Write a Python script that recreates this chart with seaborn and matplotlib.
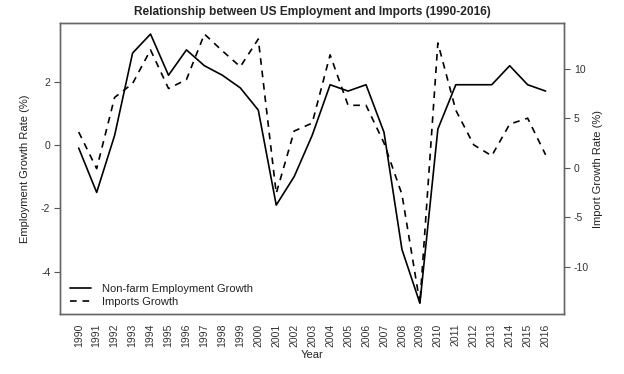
import matplotlib
matplotlib.use("Agg")
import matplotlib.pyplot as plt
import seaborn as sns
import pandas as pd
import numpy as np

years = list(range(1990, 2017))
employment = [-0.1, -1.5, 0.3, 2.9, 3.5, 2.2, 3.0, 2.5, 2.2, 1.8, 1.1, -1.9, -1.0, 0.3,
              1.9, 1.7, 1.9, 0.4, -3.3, -5.0, 0.5, 1.9, 1.9, 1.9, 2.5, 1.9, 1.7]
imports = [3.6, -0.1, 7.1, 8.5, 11.9, 8.0, 8.9, 13.5, 11.8, 10.2, 13.0, -2.6, 3.7, 4.5,
           11.4, 6.3, 6.3, 2.5, -2.7, -13.7, 12.6, 5.8, 2.3, 1.2, 4.4, 5.0, 1.3]

df = pd.DataFrame({"Year": years, "Employment": employment, "Imports": imports})

sns.set_style("white")
plt.rcParams['font.family'] = ['Liberation Sans', 'DejaVu Sans']
plt.rcParams['axes.unicode_minus'] = False

fig = plt.figure(figsize=(6.24, 3.74), dpi=100)
ax = fig.add_axes([0.0962, 0.1604, 0.9043 - 0.0962, 0.9377 - 0.1604])
ax2 = ax.twinx()

sns.lineplot(data=df, x="Year", y="Employment", ax=ax, color="black", lw=1.2,
             label="Non-farm Employment Growth", legend=False)
sns.lineplot(data=df, x="Year", y="Imports", ax=ax2, color="black", lw=1.2,
             linestyle=(0, (4, 3.5)), label="Imports Growth", legend=False)

def rng(v):
    lo, hi = min(v), max(v)
    r = hi - lo
    return lo - 0.04 * r, hi + 0.04 * r

ax.set_xlim(years[0] - 0.04 * (years[-1] - years[0]), years[-1] + 0.04 * (years[-1] - years[0]))
ax.set_ylim(*rng(employment))
ax2.set_ylim(*rng(imports))

ax.set_xticks(years)
ax.set_xticklabels([str(y) for y in years], rotation=90)
ax.set_yticks([-4, -2, 0, 2])
ax2.set_yticks([-10, -5, 0, 5, 10])

for a in (ax, ax2):
    for s in a.spines.values():
        s.set_color("#666666")
        s.set_linewidth(1.0)
    a.tick_params(axis="both", colors="#555555", labelcolor="#333333", labelsize=7.5,
                  length=4, width=0.8, direction="out", pad=3)

ax.set_xlabel("Year", fontsize=8, color="#222222", labelpad=2)
ax.set_ylabel("Employment Growth Rate (%)", fontsize=8, color="#222222", labelpad=8)
ax2.set_ylabel("Import Growth Rate (%)", fontsize=8, color="#222222", labelpad=3)
ax.set_title("Relationship between US Employment and Imports (1990-2016)",
             fontsize=8.6, fontweight="bold", pad=6)

h1, l1 = ax.get_legend_handles_labels()
h2, l2 = ax2.get_legend_handles_labels()
leg = ax.legend(h1 + h2, l1 + l2, loc="lower left", frameon=False, fontsize=8,
                handlelength=1.9, handletextpad=1.0, bbox_to_anchor=(0.0, -0.01),
                labelspacing=0.3)
for t in leg.get_texts():
    t.set_color("#222222")

fig.savefig("out.png", dpi=100)
